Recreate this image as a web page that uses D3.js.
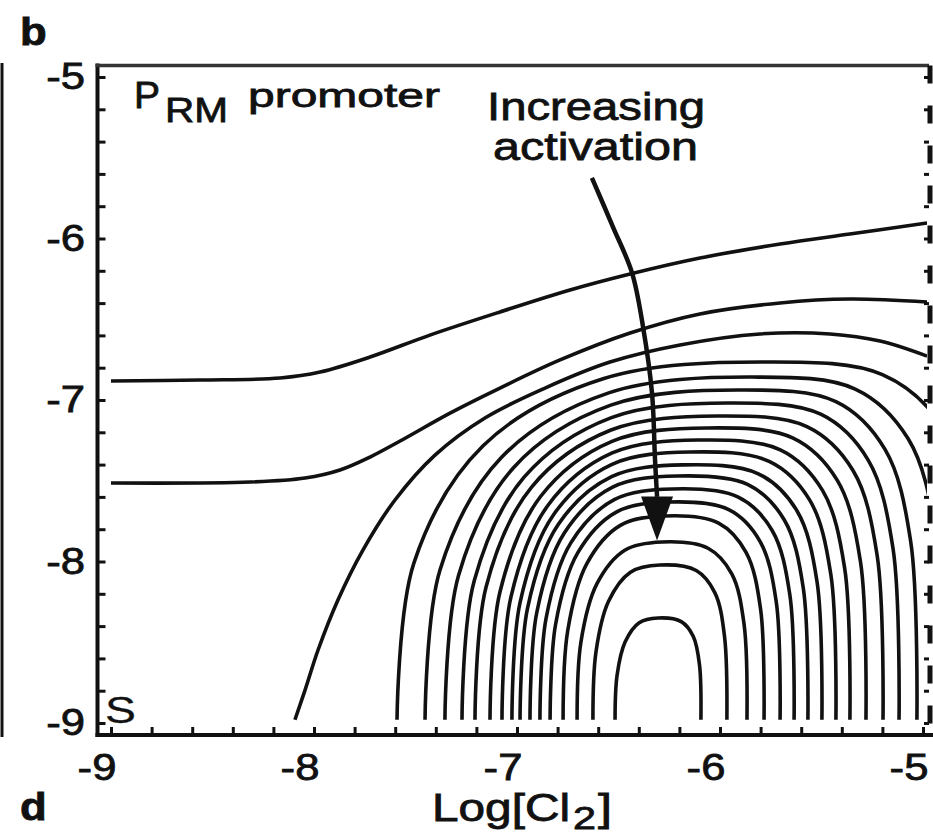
<!DOCTYPE html>
<html>
<head>
<meta charset="utf-8">
<script src="https://cdn.jsdelivr.net/npm/d3@7"></script>
<style>
body { margin: 0; background: #fff; }
text { font-family: "Liberation Sans", Arial, Helvetica, sans-serif; fill: #111; }
</style>
</head>
<body>
<div id="chart"></div>
<script>
// axis values (log units)
var xTicks = [-9, -8, -7, -6, -5];
var yTicks = [-9, -8, -7, -6, -5];
var minorStep = 0.2;

// contours that come in from the left edge
var contourTop1 = [[-9, -6.882], [-8.562, -6.876], [-8.167, -6.864], [-7.970, -6.827], [-7.724, -6.734],
  [-7.429, -6.598], [-7.084, -6.455], [-6.739, -6.319], [-6.443, -6.220], [-6.099, -6.121],
  [-5.704, -6.034], [-5.360, -5.972], [-4.980, -5.904]];
var contourTop2 = [[-9, -7.514], [-8.315, -7.508], [-8.044, -7.483], [-7.872, -7.433], [-7.724, -7.353],
  [-7.576, -7.254], [-7.330, -7.081], [-7.084, -6.926], [-6.788, -6.752], [-6.443, -6.585],
  [-6.099, -6.467], [-5.704, -6.399], [-5.360, -6.375], [-4.980, -6.393]];
// contour from the bottom axis out through the right edge
var contourOuter = [[-8.094, -8.98], [-8.044, -8.796], [-7.980, -8.548], [-7.882, -8.238], [-7.759, -7.929],
  [-7.601, -7.619], [-7.404, -7.341], [-7.158, -7.111], [-6.862, -6.926], [-6.542, -6.765],
  [-6.197, -6.659], [-5.803, -6.591], [-5.458, -6.591], [-5.212, -6.635], [-4.980, -6.728]];

// nested arches, innermost first
var arches = [
  [[-6.517, -8.98], [-6.507, -8.704], [-6.467, -8.497], [-6.398, -8.379], [-6.305, -8.350], [-6.191, -8.372], [-6.132, -8.463], [-6.101, -8.639], [-6.094, -8.98]],
  [[-6.626, -8.98], [-6.611, -8.560], [-6.549, -8.246], [-6.441, -8.066], [-6.296, -8.022], [-6.117, -8.056], [-6.025, -8.194], [-5.978, -8.461], [-5.966, -8.98]],
  [[-6.704, -8.98], [-6.685, -8.498], [-6.606, -8.137], [-6.469, -7.930], [-6.286, -7.879], [-6.059, -7.918], [-5.942, -8.077], [-5.882, -8.383], [-5.867, -8.98]],
  [[-6.773, -8.98], [-6.750, -8.427], [-6.656, -8.013], [-6.491, -7.776], [-6.271, -7.718], [-6.007, -7.762], [-5.871, -7.945], [-5.800, -8.296], [-5.783, -8.98]],
  [[-6.837, -8.98], [-6.810, -8.390], [-6.701, -7.947], [-6.511, -7.694], [-6.256, -7.632], [-5.957, -7.679], [-5.803, -7.875], [-5.723, -8.249], [-5.704, -8.98]],
  [[-6.887, -8.98], [-6.857, -8.354], [-6.735, -7.885], [-6.521, -7.617], [-6.236, -7.551], [-5.910, -7.601], [-5.743, -7.808], [-5.656, -8.206], [-5.635, -8.98]],
  [[-6.936, -8.98], [-6.903, -8.319], [-6.767, -7.824], [-6.529, -7.540], [-6.212, -7.471], [-5.862, -7.524], [-5.683, -7.743], [-5.590, -8.162], [-5.567, -8.98]],
  [[-6.985, -8.98], [-6.948, -8.289], [-6.797, -7.771], [-6.534, -7.475], [-6.182, -7.402], [-5.811, -7.457], [-5.621, -7.686], [-5.522, -8.125], [-5.498, -8.98]],
  [[-7.025, -8.98], [-6.985, -8.254], [-6.820, -7.710], [-6.532, -7.398], [-6.148, -7.322], [-5.758, -7.380], [-5.558, -7.620], [-5.454, -8.081], [-5.429, -8.98]],
  [[-7.074, -8.98], [-7.030, -8.221], [-6.848, -7.653], [-6.531, -7.328], [-6.108, -7.248], [-5.703, -7.309], [-5.495, -7.560], [-5.386, -8.041], [-5.360, -8.98]],
  [[-7.133, -8.98], [-7.084, -8.189], [-6.883, -7.596], [-6.532, -7.256], [-6.064, -7.173], [-5.640, -7.236], [-5.422, -7.498], [-5.308, -8.001], [-5.281, -8.98]],
  [[-7.207, -8.98], [-7.152, -8.156], [-6.928, -7.539], [-6.537, -7.186], [-6.015, -7.099], [-5.572, -7.165], [-5.344, -7.438], [-5.226, -7.961], [-5.197, -8.98]],
  [[-7.271, -8.98], [-7.211, -8.121], [-6.965, -7.478], [-6.535, -7.109], [-5.961, -7.019], [-5.504, -7.088], [-5.270, -7.372], [-5.148, -7.917], [-5.118, -8.98]],
  [[-7.355, -8.98], [-7.288, -8.086], [-7.015, -7.416], [-6.538, -7.032], [-5.901, -6.938], [-5.429, -7.010], [-5.187, -7.306], [-5.061, -7.873], [-5.030, -8.98]],
  [[-7.453, -8.98], [-7.379, -8.051], [-7.076, -7.355], [-6.548, -6.956], [-5.842, -6.858], [-5.334, -6.932], [-5.073, -7.240], [-4.937, -7.830], [-4.904, -8.98]],
  [[-7.591, -8.98], [-7.508, -8.010], [-7.167, -7.283], [-6.572, -6.867], [-5.778, -6.765], [-5.200, -6.843], [-4.904, -7.164], [-4.749, -7.780], [-4.712, -8.98]]
];

// "increasing activation" arrow
var arrowPath = [[-6.631, -5.625], [-6.527, -5.929], [-6.433, -6.214], [-6.379, -6.548], [-6.335, -6.957], [-6.320, -7.372], [-6.310, -7.600]];
var arrowTip = [-6.310, -7.870];

var width = 933, height = 834;
var svg = d3.select("#chart").append("svg")
    .attr("width", width)
    .attr("height", height);

var x = d3.scaleLinear().domain([-9, -5]).range([111, 923]);
var y = d3.scaleLinear().domain([-9, -5]).range([723, 77]);
var frame = {left: 97.5, right: 929, top: 65.5, bottom: 735};
var minor = d3.range(0, 21).map(function(i) { return -9 + i * minorStep; });
var ink = "#111";

svg.append("defs").append("clipPath").attr("id", "plot")
  .append("rect")
    .attr("x", frame.left + 2).attr("y", frame.top + 2)
    .attr("width", frame.right - frame.left - 4)
    .attr("height", frame.bottom - frame.top - 4);

var line = d3.line()
    .x(function(d) { return x(d[0]); })
    .y(function(d) { return y(d[1]); })
    .curve(d3.curveCatmullRom.alpha(0.5));

var plot = svg.append("g").attr("clip-path", "url(#plot)");
plot.selectAll("path.contour")
    .data([contourTop1, contourTop2, contourOuter].concat(arches))
  .enter().append("path")
    .attr("class", "contour")
    .attr("d", line)
    .attr("fill", "none")
    .attr("stroke", ink)
    .attr("stroke-width", 3.6);

// arrow
plot.append("path")
    .attr("d", line(arrowPath))
    .attr("fill", "none")
    .attr("stroke", ink)
    .attr("stroke-width", 4.5);
var tx = x(arrowTip[0]), ty = y(arrowTip[1]);
plot.append("path")
    .attr("d", "M" + (tx - 16) + "," + (ty - 44) + "L" + (tx + 16) + "," + (ty - 44) + "L" + tx + "," + ty + "Z")
    .attr("fill", ink);

// ticks (inward)
function styleTicks(sel) {
  sel.select(".domain").remove();
  sel.selectAll(".tick line").attr("stroke", ink).attr("stroke-width", 3);
}
svg.append("g").attr("transform", "translate(" + frame.left + ",0)")
    .call(d3.axisRight(y).tickValues(minor).tickSize(8).tickFormat(""))
    .call(styleTicks);
svg.append("g").attr("transform", "translate(0," + frame.bottom + ")")
    .call(d3.axisTop(x).tickValues(minor).tickSize(8).tickFormat(""))
    .call(styleTicks);
svg.append("g").attr("transform", "translate(" + frame.right + ",0)")
    .call(d3.axisLeft(y).tickValues(minor).tickSize(5).tickFormat(""))
    .call(styleTicks);

// frame
svg.append("line").attr("x1", frame.left).attr("x2", frame.left).attr("y1", frame.top - 2).attr("y2", frame.bottom + 2)
    .attr("stroke", ink).attr("stroke-width", 4);
svg.append("line").attr("x1", frame.left - 2).attr("x2", frame.right).attr("y1", frame.top).attr("y2", frame.top)
    .attr("stroke", "#333").attr("stroke-width", 3.5);
svg.append("line").attr("x1", frame.left - 2).attr("x2", width).attr("y1", frame.bottom).attr("y2", frame.bottom)
    .attr("stroke", ink).attr("stroke-width", 4);
svg.append("line").attr("x1", frame.right + 1).attr("x2", frame.right + 1).attr("y1", frame.top).attr("y2", frame.bottom)
    .attr("stroke", ink).attr("stroke-width", 5).attr("stroke-dasharray", "18,22");

// edge of neighbouring panel
svg.append("line").attr("x1", 2).attr("x2", 2).attr("y1", 63).attr("y2", 737)
    .attr("stroke", ink).attr("stroke-width", 3);

// stretched text helper
function label(str, px, py, size, opts) {
  opts = opts || {};
  var sx = opts.sx || 1.18;
  var t = svg.append("text")
      .attr("transform", "translate(" + px + "," + py + ") scale(" + sx + ",1)")
      .attr("font-size", size)
      .attr("text-anchor", opts.anchor || "start")
      .attr("font-weight", opts.bold ? "bold" : "normal")
      .attr("stroke", ink).attr("stroke-width", opts.stroke == null ? 0.8 : opts.stroke)
      .text(str);
  if (opts.len) t.attr("textLength", opts.len / sx).attr("lengthAdjust", "spacingAndGlyphs");
  return t;
}

yTicks.forEach(function(v) {
  label(String(v), 85, y(v) + 12, 37, {anchor: "end"});
});
xTicks.forEach(function(v) {
  label(String(v), x(v) - 14, 780, 37, {anchor: "middle"});
});

label("b", 20, 45, 38, {bold: true, sx: 1.15});
label("d", 20, 820, 38, {bold: true, sx: 1.15});
label("S", 105, 723, 37, {sx: 1.25, stroke: 0.3});

label("P", 134, 108, 37, {len: 26});
label("RM", 165, 122, 35, {len: 63});
label("promoter", 248, 107, 34, {len: 192});
label("Increasing", 487, 120, 39, {len: 218});
label("activation", 493, 160, 39, {len: 205});

label("Log[Cl", 432, 821, 38, {len: 138});
label("2", 573, 829, 32, {len: 23});
label("]", 598, 821, 38, {len: 14});
</script>
</body>
</html>
